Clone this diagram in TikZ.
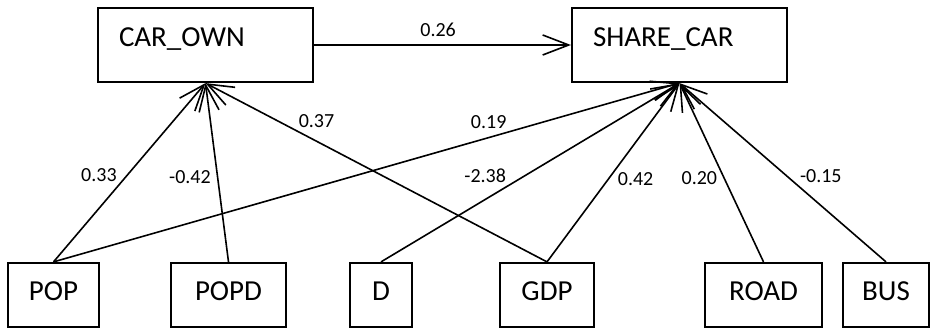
\documentclass[tikz,border=0pt]{standalone}
\usepackage{fontspec}
\setmainfont{Carlito}
\usetikzlibrary{arrows.meta,positioning}

\begin{document}
\begin{tikzpicture}[
            x=0.5pt,y=-0.5pt,
            var/.style={draw,line width=1.1pt,minimum height=37pt,text depth=7.5pt,
                inner xsep=10.5pt,text width=86.5pt,align=left,font=\fontsize{14.5}{17}\selectfont},
            obs/.style={draw,line width=1.1pt,minimum height=32pt,text depth=4pt,
                inner xsep=0pt,font=\fontsize{14.5}{17}\selectfont},
            link/.style={line width=0.8pt,-{Straight Barb[length=13pt,width=10pt]}},
            coef/.style={inner sep=1pt,font=\fontsize{10}{12}\selectfont}
        ]
            \useasboundingbox (0,0) rectangle (930,331);
            \node[var] (carown) at (205.5,45) {CAR\_OWN};
            \node[var] (sharecar) at (679.5,45) {SHARE\_CAR};
            \node[obs,minimum width=45.5pt] (pop) at (53.5,295) {POP};
            \node[obs,minimum width=57.5pt] (popd) at (228.5,295) {POPD};
            \node[obs,minimum width=31pt] (d) at (381,295) {D};
            \node[obs,minimum width=47pt] (gdp) at (547,295) {GDP};
            \node[obs,minimum width=58.5pt] (road) at (763.5,295) {ROAD};
            \node[obs,minimum width=43pt] (bus) at (886,295) {BUS};
            \draw[link] (carown) -- node[coef,pos=.483,above=3pt]{0.26} (sharecar);
            \draw[link] (pop.north) -- node[coef,pos=.434,anchor=south east]{0.33} (carown.south);
            \draw[link] (pop.north) -- node[coef,pos=.728,anchor=south east]{0.19} (sharecar.south);
            \draw[link] (popd.north) -- node[coef,pos=.475,left=2pt]{-0.42} (carown.south);
            \draw[link] (d.north) -- node[coef,pos=.428,anchor=south east]{-2.38} (sharecar.south);
            \draw[link] (gdp.north) -- node[coef,pos=.735,anchor=south west]{0.37} (carown.south);
            \draw[link] (gdp.north) -- node[coef,pos=.514,anchor=north west]{0.42} (sharecar.south);
            \draw[link] (road.north) -- node[coef,pos=.519,anchor=north east]{0.20} (sharecar.south);
            \draw[link] (bus.north) -- node[coef,pos=.43,anchor=south west]{-0.15} (sharecar.south);
        \end{tikzpicture}
\end{document}
